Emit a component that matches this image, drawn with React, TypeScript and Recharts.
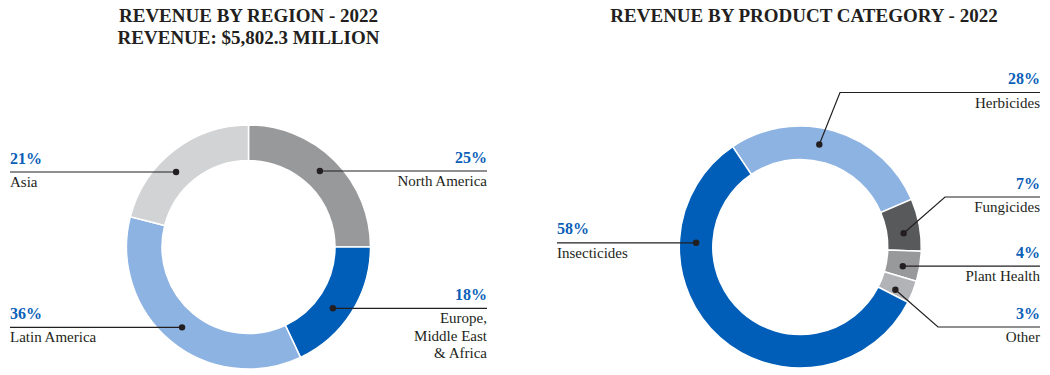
import React from 'react';
import { PieChart, Pie, Cell } from 'recharts';

// ---------- data ----------
const regionNames = ['North America', 'Europe, Middle East & Africa', 'Latin America', 'Asia'];
const regionShares = [25, 18, 36, 21];
const regionLabelLines = [['North America'], ['Europe,', 'Middle East', '& Africa'], ['Latin America'], ['Asia']];

const productNames = ['Herbicides', 'Fungicides', 'Plant Health', 'Other', 'Insecticides'];
const productShares = [28, 7, 4, 3, 58];

const leftTitle = ['REVENUE BY REGION - 2022', 'REVENUE: $5,802.3 MILLION'];
const rightTitle = ['REVENUE BY PRODUCT CATEGORY - 2022'];

// ---------- styles / layout ----------
const regionColors = ['#98999b', '#005eb8', '#8db3e2', '#d1d3d4'];
const productColors = ['#8db3e2', '#58595b', '#98999b', '#b1b3b6', '#005eb8'];

const BLUE = '#0b5fb8';
const INK = '#231f20';
const FONT = '"Liberation Serif", "Times New Roman", serif';

type Callout = { angle: number; textX: number; anchor: 'start' | 'end'; elbowX?: number; lineY?: number };

const regionCallouts: Callout[] = [
  { angle: 46.8, textX: 487, anchor: 'end' },
  { angle: -36, textX: 487, anchor: 'end' },
  { angle: 230.4, textX: 10, anchor: 'start' },
  { angle: 134, textX: 10, anchor: 'start' },
];

const productCallouts: Callout[] = [
  { angle: 79.5, textX: 1040, anchor: 'end', elbowX: 840, lineY: 92.5 },
  { angle: 7.6, textX: 1040, anchor: 'end', elbowX: 945, lineY: 197 },
  { angle: -10.6, textX: 1040, anchor: 'end' },
  { angle: -24.2, textX: 1040, anchor: 'end', elbowX: 938, lineY: 327 },
  { angle: 177.7, textX: 557, anchor: 'start' },
];

const regionData = regionNames.map((name, i) => ({ name, value: regionShares[i] }));
const productData = productNames.map((name, i) => ({ name, value: productShares[i] }));

const makeLabel = (callouts: Callout[], lines: string[][], shares: number[]) => (props: any) => {
  const { cx, cy, innerRadius, outerRadius, index } = props;
  const c = callouts[index];
  if (!c) return null;
  const r = (innerRadius + outerRadius) / 2;
  const a = (c.angle * Math.PI) / 180;
  const dx = cx + r * Math.cos(a);
  const dy = cy - r * Math.sin(a);
  const lineY = c.lineY !== undefined ? c.lineY : dy;
  const startX = c.elbowX !== undefined ? c.elbowX : dx;
  const pts =
    c.elbowX !== undefined
      ? `${dx},${dy} ${c.elbowX},${lineY} ${c.textX},${lineY}`
      : `${startX},${lineY} ${c.textX},${lineY}`;
  return (
    <g key={`lbl-${index}`}>
      <polyline points={pts} fill="none" stroke={INK} strokeWidth={1.2} />
      <circle cx={dx} cy={dy} r={3.2} fill={INK} />
      <text
        x={c.textX}
        y={lineY - 8.5}
        textAnchor={c.anchor}
        fontFamily={FONT}
        fontWeight="bold"
        fontSize={16}
        fill={BLUE}
      >
        {`${shares[index]}%`}
      </text>
      {lines[index].map((t, k) => (
        <text
          key={k}
          x={c.textX}
          y={lineY + 15 + k * 17.6}
          textAnchor={c.anchor}
          fontFamily={FONT}
          fontSize={15}
          fill={INK}
        >
          {t}
        </text>
      ))}
    </g>
  );
};

const regionLabel = makeLabel(regionCallouts, regionLabelLines, regionShares);
const productLabel = makeLabel(
  productCallouts,
  productNames.map((n) => [n]),
  productShares
);

export default function App() {
  return (
    <div style={{ position: 'absolute', left: 0, top: 0, width: 1050, height: 375, background: '#fff' }}>
      <PieChart width={1050} height={375} margin={{ top: 0, right: 0, bottom: 0, left: 0 }}>
        <Pie
          data={regionData}
          dataKey="value"
          nameKey="name"
          cx={248.5}
          cy={247}
          innerRadius={86.5}
          outerRadius={122}
          startAngle={90}
          endAngle={-270}
          stroke="#ffffff"
          strokeWidth={1.5}
          label={regionLabel}
          labelLine={false}
          isAnimationActive={false}
        >
          {regionData.map((d, i) => (
            <Cell key={d.name} fill={regionColors[i]} />
          ))}
        </Pie>
        <Pie
          data={productData}
          dataKey="value"
          nameKey="name"
          cx={800.3}
          cy={247}
          innerRadius={87.5}
          outerRadius={121}
          startAngle={124}
          endAngle={-236}
          stroke="#ffffff"
          strokeWidth={1.5}
          label={productLabel}
          labelLine={false}
          isAnimationActive={false}
        >
          {productData.map((d, i) => (
            <Cell key={d.name} fill={productColors[i]} />
          ))}
        </Pie>
      </PieChart>
      <svg
        width={1050}
        height={375}
        style={{ position: 'absolute', left: 0, top: 0, pointerEvents: 'none' }}
      >
        {leftTitle.map((t, i) => (
          <text
            key={t}
            x={248.5}
            y={21.5 + i * 22.8}
            textAnchor="middle"
            fontFamily={FONT}
            fontWeight="bold"
            fontSize={19}
            fill={INK}
          >
            {t}
          </text>
        ))}
        {rightTitle.map((t, i) => (
          <text
            key={t}
            x={804}
            y={21.5 + i * 22.8}
            textAnchor="middle"
            fontFamily={FONT}
            fontWeight="bold"
            fontSize={19}
            fill={INK}
          >
            {t}
          </text>
        ))}
      </svg>
    </div>
  );
}
